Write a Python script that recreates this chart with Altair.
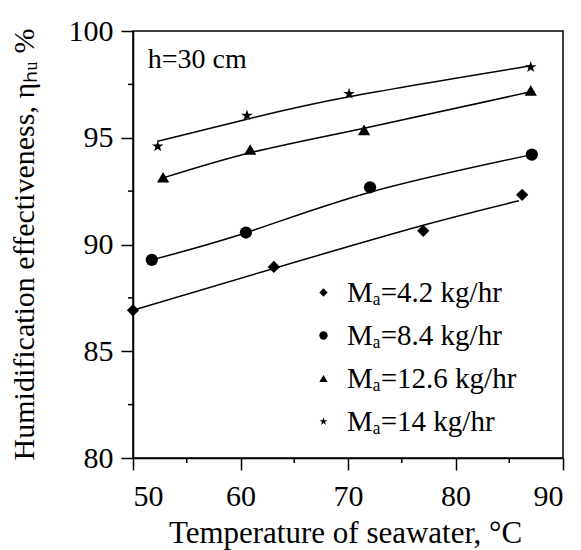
import altair as alt
import pandas as pd

# ---------------- data ----------------
series = ["Mₐ=4.2 kg/hr", "Mₐ=8.4 kg/hr", "Mₐ=12.6 kg/hr", "Mₐ=14 kg/hr"]

# measured points
m42_x = [50.0, 63.1, 77.0, 86.2]
m42_y = [86.92, 88.95, 90.64, 92.33]
m84_x = [51.75, 60.5, 72.05, 87.1]
m84_y = [89.28, 90.56, 92.68, 94.21]
m126_x = [52.8, 60.9, 71.5, 87.0]
m126_y = [93.15, 94.45, 95.37, 97.22]
m14_x = [52.3, 60.6, 70.1, 87.0]
m14_y = [94.6, 96.04, 97.06, 98.31]

# fitted curves
f42_x = [50.0, 63.1, 77.0, 85.9]
f42_y = [86.92, 88.88, 90.9, 92.05]
f84_x = [51.75, 60.5, 72.05, 87.1]
f84_y = [89.28, 90.55, 92.45, 94.21]
f126_x = [52.8, 60.9, 71.5, 87.0]
f126_y = [93.12, 94.3, 95.45, 97.15]
f14_x = [52.3, 60.6, 70.1, 87.0]
f14_y = [94.84, 95.87, 96.92, 98.37]

x_major = [50, 60, 70, 80, 90]
x_minor = [55, 65, 75, 85]
y_major = [80, 85, 90, 95, 100]
y_minor = [82.5, 87.5, 92.5, 97.5]

note_text = ["h=30 cm"]
note_x = [51.37]
note_y = [98.26]

STAR = ("M0,-1L0.2245,-0.309L0.951,-0.309L0.363,0.118L0.588,0.809L0,0.382"
        "L-0.588,0.809L-0.363,0.118L-0.951,-0.309L-0.2245,-0.309Z")
shapes = ["diamond", "circle", "triangle-up", STAR]

# ---------------- tables ----------------
meas = pd.concat([
    pd.DataFrame({"x": xs, "y": ys, "series": s})
    for xs, ys, s in [(m42_x, m42_y, series[0]), (m84_x, m84_y, series[1]),
                      (m126_x, m126_y, series[2]), (m14_x, m14_y, series[3])]
], ignore_index=True)
fits = pd.concat([
    pd.DataFrame({"x": xs, "y": ys, "series": s})
    for xs, ys, s in [(f42_x, f42_y, series[0]), (f84_x, f84_y, series[1]),
                      (f126_x, f126_y, series[2]), (f14_x, f14_y, series[3])]
], ignore_index=True)
note = pd.DataFrame({"x": note_x, "y": note_y, "t": note_text})
xmin_df = pd.DataFrame({"v": x_minor})
ymin_df = pd.DataFrame({"v": y_minor})

FONT = "Liberation Serif"
W, H = 430, 427
x_scale = alt.Scale(domain=[50, 90], nice=False, zero=False)
y_scale = alt.Scale(domain=[80, 100], nice=False, zero=False)

x_axis = alt.Axis(
    values=x_major, format="d", tickSize=12,
    labelPadding=11, title="Temperature of seawater, °C",
    titleX=212, titleY=84, titleBaseline="alphabetic", titleFontSize=31,
)
y_axis = alt.Axis(
    values=y_major, format="d", tickSize=12,
    labelPadding=8, title="Humidification effectiveness, ηₕᵤ %",
    titleX=-100, titleY=213, titleBaseline="alphabetic", titleAngle=270,
    titleAlign="center",
)

lines = alt.Chart(fits).mark_line(color="black", strokeWidth=1.5, interpolate="natural").encode(
    x=alt.X("x:Q", scale=x_scale, axis=x_axis),
    y=alt.Y("y:Q", scale=y_scale, axis=y_axis),
    detail="series:N",
)

points = alt.Chart(meas).mark_point(
    filled=True, opacity=1, color="black", strokeWidth=0, size=150
).encode(
    x=alt.X("x:Q", scale=x_scale),
    y=alt.Y("y:Q", scale=y_scale),
    shape=alt.Shape(
        "series:N",
        scale=alt.Scale(domain=series, range=shapes),
        legend=alt.Legend(
            orient="none", legendX=176, legendY=247, title=None,
            labelFont=FONT, labelFontSize=29, labelColor="black", labelLimit=0,
            symbolSize=70, symbolFillColor="black", symbolStrokeWidth=0,
            symbolOpacity=1, labelOffset=9, rowPadding=13, padding=0,
        ),
    ),
)

txt = alt.Chart(note).mark_text(
    font=FONT, fontSize=28, align="left", baseline="alphabetic", color="black"
).encode(
    x=alt.X("x:Q", scale=x_scale),
    y=alt.Y("y:Q", scale=y_scale),
    text="t:N",
)

x_minor_ticks = alt.Chart(xmin_df).mark_rule(color="black", strokeWidth=1.5).encode(
    x=alt.X("v:Q", scale=x_scale),
    y=alt.value(H), y2=alt.value(H + 5),
)
y_minor_ticks = alt.Chart(ymin_df).mark_rule(color="black", strokeWidth=1.5).encode(
    y=alt.Y("v:Q", scale=y_scale),
    x=alt.value(0), x2=alt.value(-5),
)

chart = alt.layer(lines, points, txt, x_minor_ticks, y_minor_ticks).properties(
    width=W, height=H,
    autosize=alt.AutoSizeParams(type="none"),
    padding={"left": 133, "top": 31, "right": 18, "bottom": 92},
    background="white",
).configure_view(
    stroke="black", strokeWidth=1.5,
).configure_axis(
    grid=False, domainColor="black", domainWidth=1.5, tickColor="black", tickWidth=1.5,
    labelFont=FONT, labelFontSize=30, labelColor="black",
    titleFont=FONT, titleFontSize=30, titleFontWeight="normal", titleColor="black",
)

chart.save("out.html", embed_options={"renderer": "svg", "actions": False})
